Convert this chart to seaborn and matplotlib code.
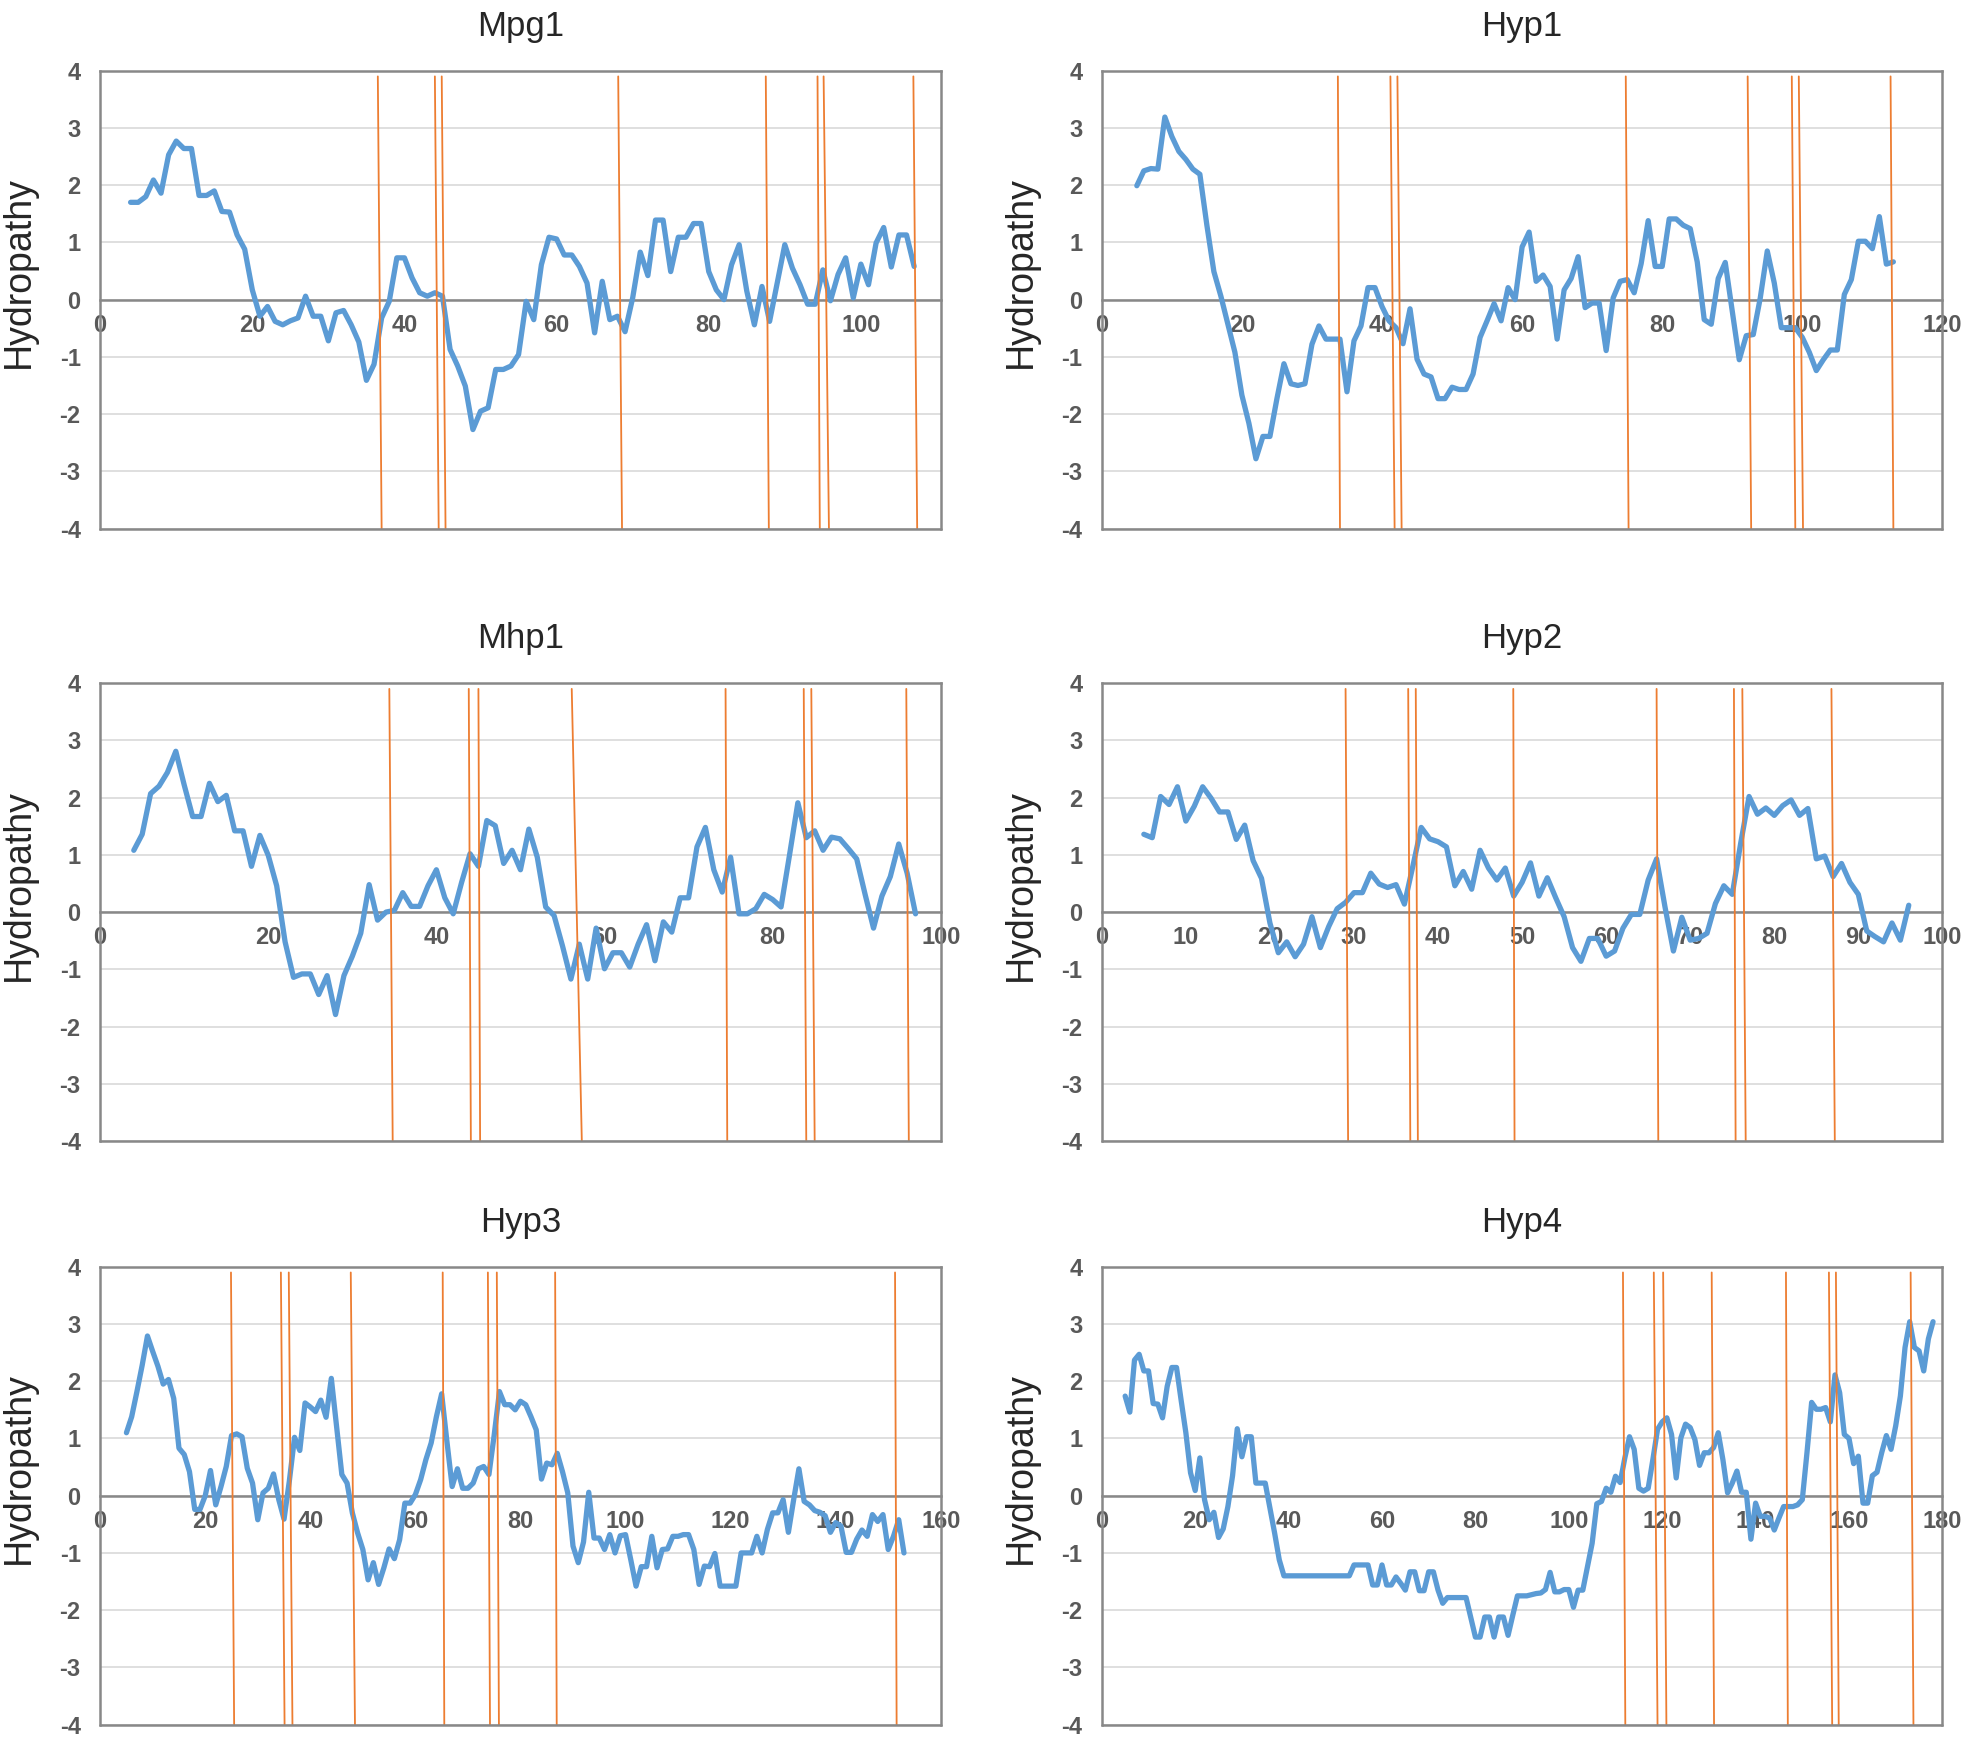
import numpy as np
import matplotlib
matplotlib.use("Agg")
import matplotlib.pyplot as plt
import seaborn as sns

# ---- hydropathy profiles ----
mpg1_start = 4
mpg1_y = [1.70, 1.70, 1.80, 2.09, 1.86, 2.53, 2.77, 2.64, 2.64, 1.82, 1.82, 1.90, 1.54, 1.53,
          1.13, 0.88, 0.17, -0.29, -0.12, -0.38, -0.44, -0.37, -0.32, 0.06, -0.29, -0.29,
          -0.72, -0.23, -0.19, -0.44, -0.74, -1.41, -1.13, -0.32, -0.03, 0.73, 0.73, 0.38,
          0.12, 0.06, 0.12, 0.06, -0.87, -1.16, -1.51, -2.27, -1.95, -1.89, -1.22, -1.22,
          -1.16, -0.96, -0.03, -0.35, 0.61, 1.09, 1.06, 0.78, 0.78, 0.58, 0.29, -0.58, 0.32,
          -0.35, -0.29, -0.56, 0.03, 0.83, 0.42, 1.39, 1.39, 0.49, 1.09, 1.09, 1.33, 1.33,
          0.49, 0.17, 0.00, 0.61, 0.96, 0.15, -0.44, 0.23, -0.38, 0.29, 0.96, 0.55, 0.26,
          -0.08, -0.08, 0.52, -0.02, 0.44, 0.73, 0.03, 0.62, 0.26, 0.99, 1.26, 0.57, 1.13,
          1.13, 0.58]
mpg1_cut_top = [36.5, 44.0, 44.9, 68.1, 87.5, 94.3, 95.1, 106.9]
mpg1_cut_bottom = [37.0, 44.5, 45.4, 68.6, 87.9, 94.6, 95.8, 107.4]

hyp1_start = 5
hyp1_y = [1.99, 2.25, 2.29, 2.28, 3.19, 2.85, 2.59, 2.45, 2.28, 2.19, 1.30, 0.49, 0.06, -0.43,
          -0.92, -1.67, -2.16, -2.78, -2.39, -2.39, -1.73, -1.12, -1.47, -1.50, -1.47, -0.78,
          -0.46, -0.69, -0.69, -0.69, -1.61, -0.72, -0.46, 0.21, 0.21, -0.12, -0.37, -0.49,
          -0.77, -0.16, -1.04, -1.30, -1.35, -1.73, -1.73, -1.53, -1.57, -1.57, -1.30, -0.66,
          -0.37, -0.07, -0.37, 0.21, 0.00, 0.92, 1.18, 0.32, 0.43, 0.23, -0.69, 0.17, 0.37,
          0.75, -0.14, -0.06, -0.06, -0.89, 0.03, 0.32, 0.35, 0.12, 0.63, 1.38, 0.58, 0.58,
          1.41, 1.41, 1.30, 1.24, 0.66, -0.35, -0.43, 0.37, 0.65, -0.20, -1.05, -0.63, -0.61,
          0.03, 0.85, 0.29, -0.49, -0.49, -0.49, -0.66, -0.92, -1.24, -1.05, -0.88, -0.88,
          0.09, 0.35, 1.02, 1.02, 0.89, 1.45, 0.62, 0.66]
hyp1_cut_top = [33.7, 41.2, 42.2, 74.8, 92.2, 98.5, 99.5, 112.6]
hyp1_cut_bottom = [34.0, 41.8, 42.8, 75.2, 92.7, 99.0, 100.1, 113.0]

mhp1_start = 4
mhp1_y = [1.08, 1.36, 2.07, 2.20, 2.44, 2.81, 2.22, 1.67, 1.67, 2.25, 1.93, 2.04, 1.42, 1.42,
          0.80, 1.34, 0.99, 0.46, -0.52, -1.14, -1.08, -1.08, -1.44, -1.11, -1.79, -1.11,
          -0.77, -0.37, 0.48, -0.14, 0.00, 0.03, 0.34, 0.10, 0.10, 0.46, 0.74, 0.25, -0.03,
          0.52, 1.02, 0.80, 1.60, 1.51, 0.85, 1.08, 0.74, 1.45, 0.96, 0.09, -0.06, -0.59,
          -1.17, -0.56, -1.17, -0.28, -0.99, -0.71, -0.71, -0.96, -0.56, -0.22, -0.85, -0.17,
          -0.35, 0.25, 0.25, 1.14, 1.48, 0.74, 0.35, 0.96, -0.03, -0.03, 0.06, 0.31, 0.22,
          0.09, 0.99, 1.91, 1.30, 1.42, 1.08, 1.31, 1.28, 1.11, 0.93, 0.31, -0.28, 0.28, 0.62,
          1.19, 0.68, -0.03]
mhp1_cut_top = [34.4, 43.85, 45.0, 56.1, 74.4, 83.7, 84.6, 95.9]
mhp1_cut_bottom = [34.8, 44.1, 45.2, 57.3, 74.6, 84.0, 85.0, 96.2]

hyp2_start = 5
hyp2_y = [1.36, 1.30, 2.02, 1.88, 2.19, 1.59, 1.85, 2.19, 1.99, 1.75, 1.75, 1.27, 1.52, 0.90,
          0.59, -0.19, -0.71, -0.52, -0.78, -0.56, -0.08, -0.62, -0.25, 0.06, 0.17, 0.34,
          0.34, 0.68, 0.49, 0.43, 0.48, 0.14, 0.80, 1.48, 1.28, 1.23, 1.14, 0.46, 0.71, 0.40,
          1.08, 0.77, 0.56, 0.77, 0.28, 0.52, 0.86, 0.28, 0.60, 0.25, -0.08, -0.62, -0.86,
          -0.46, -0.46, -0.77, -0.68, -0.28, -0.04, -0.04, 0.56, 0.93, 0.09, -0.68, -0.09,
          -0.49, -0.46, -0.37, 0.15, 0.46, 0.31, 1.20, 2.02, 1.71, 1.82, 1.69, 1.86, 1.96,
          1.69, 1.81, 0.93, 0.98, 0.62, 0.85, 0.52, 0.31, -0.33, -0.43, -0.52, -0.19, -0.49,
          0.12]
hyp2_cut_top = [29.0, 36.45, 37.35, 48.95, 66.0, 75.2, 76.2, 86.8]
hyp2_cut_bottom = [29.3, 36.7, 37.6, 49.1, 66.2, 75.4, 76.6, 87.2]

hyp3_start = 5
hyp3_y = [1.10, 1.38, 1.82, 2.28, 2.79, 2.52, 2.26, 1.95, 2.03, 1.70, 0.83, 0.72, 0.42, -0.24,
          -0.24, 0.00, 0.44, -0.16, 0.16, 0.51, 1.05, 1.08, 1.03, 0.48, 0.22, -0.42, 0.05,
          0.13, 0.38, -0.07, -0.41, 0.25, 1.02, 0.79, 1.62, 1.55, 1.47, 1.67, 1.37, 2.05, 1.21,
          0.37, 0.22, -0.30, -0.65, -0.94, -1.47, -1.17, -1.55, -1.26, -0.93, -1.10, -0.77,
          -0.13, -0.13, 0.02, 0.28, 0.63, 0.92, 1.38, 1.78, 0.95, 0.16, 0.47, 0.13, 0.13, 0.22,
          0.47, 0.51, 0.37, 1.06, 1.82, 1.59, 1.59, 1.50, 1.65, 1.59, 1.38, 1.15, 0.29, 0.57,
          0.54, 0.74, 0.42, 0.05, -0.88, -1.17, -0.81, 0.06, -0.74, -0.74, -0.94, -0.68, -1.00,
          -0.70, -0.68, -1.12, -1.58, -1.24, -1.24, -0.71, -1.26, -0.94, -0.93, -0.71, -0.71,
          -0.68, -0.68, -0.94, -1.55, -1.23, -1.24, -1.01, -1.58, -1.58, -1.58, -1.58, -1.00,
          -1.00, -1.00, -0.71, -1.00, -0.59, -0.30, -0.30, -0.07, -0.64, -0.07, 0.47, -0.10,
          -0.16, -0.26, -0.29, -0.35, -0.64, -0.47, -0.53, -0.99, -0.99, -0.76, -0.60, -0.71,
          -0.33, -0.45, -0.33, -0.94, -0.71, -0.42, -1.00]
hyp3_cut_top = [24.9, 34.4, 35.9, 47.7, 65.2, 73.8, 75.5, 86.6, 151.3]
hyp3_cut_bottom = [25.5, 35.1, 36.6, 48.5, 65.5, 74.2, 75.9, 86.9, 151.6]

hyp4_x = [5, 6, 7, 8, 9, 10, 11, 12, 13, 14, 15, 16, 17, 18, 19, 20, 21, 22, 23, 24, 25, 26,
          27, 28, 29, 30, 31, 32, 33, 34, 35, 36, 37, 38, 39, 53, 54, 55, 56, 57, 58, 59, 60,
          61, 62, 63, 64, 65, 66, 67, 68, 69, 70, 71, 72, 73, 74, 78, 80, 81, 82, 83, 84, 85,
          86, 87, 88, 89, 91, 93, 94, 95, 96, 97, 98, 99, 100, 101, 102, 103, 104, 105, 106,
          107, 108, 109, 110, 111, 112, 113, 114, 115, 116, 117, 118, 119, 120, 121, 122, 123,
          124, 125, 126, 127, 128, 129, 130, 131, 132, 133, 134, 135, 136, 137, 138, 139, 140,
          141, 142, 143, 144, 145, 146, 148, 149, 150, 151, 152, 153, 154, 155, 156, 157, 158,
          159, 160, 161, 162, 163, 164, 165, 166, 167, 168, 169, 170, 171, 172, 173, 174, 175,
          176, 177, 178]
hyp4_y = [1.74, 1.46, 2.37, 2.47, 2.18, 2.18, 1.61, 1.60, 1.36, 1.91, 2.24, 2.24, 1.66, 1.10,
          0.40, 0.09, 0.66, -0.07, -0.42, -0.29, -0.73, -0.58, -0.19, 0.35, 1.17, 0.68, 1.03,
          1.03, 0.22, 0.22, 0.22, -0.22, -0.65, -1.12, -1.40, -1.40, -1.21, -1.21, -1.21,
          -1.21, -1.56, -1.56, -1.21, -1.56, -1.56, -1.42, -1.53, -1.65, -1.33, -1.33, -1.66,
          -1.66, -1.33, -1.33, -1.65, -1.88, -1.78, -1.78, -2.47, -2.47, -2.12, -2.12, -2.47,
          -2.12, -2.12, -2.44, -2.09, -1.75, -1.75, -1.71, -1.70, -1.64, -1.34, -1.68, -1.68,
          -1.64, -1.64, -1.95, -1.65, -1.65, -1.24, -0.83, -0.14, -0.10, 0.13, 0.06, 0.34,
          0.23, 0.66, 1.03, 0.81, 0.13, 0.08, 0.13, 0.63, 1.16, 1.29, 1.36, 1.07, 0.31, 1.01,
          1.25, 1.19, 0.98, 0.53, 0.75, 0.75, 0.84, 1.10, 0.63, 0.05, 0.22, 0.43, 0.06, 0.06,
          -0.76, -0.13, -0.36, -0.36, -0.39, -0.60, -0.39, -0.19, -0.19, -0.16, -0.07, 0.75,
          1.63, 1.51, 1.51, 1.54, 1.29, 2.11, 1.80, 1.07, 1.00, 0.56, 0.69, -0.13, -0.13, 0.35,
          0.41, 0.75, 1.05, 0.81, 1.22, 1.74, 2.59, 3.04, 2.59, 2.53, 2.18, 2.74, 3.04]
hyp4_cut_top = [111.6, 118.2, 120.2, 130.6, 146.5, 155.7, 157.2, 173.2]
hyp4_cut_bottom = [112.1, 119.0, 120.9, 131.1, 146.9, 156.4, 157.8, 173.8]

names = ["Mpg1", "Hyp1", "Mhp1", "Hyp2", "Hyp3", "Hyp4"]
x_limits = [110.5, 120, 100, 100, 160, 180]
x_steps = [20, 20, 20, 10, 20, 20]

BLUE = "#5B9BD5"
ORANGE = "#ED7D31"
FRAME = "#888888"
GRID = "#D9D9D9"
TICK = "#595959"

series = [
    (np.arange(mpg1_start, mpg1_start + len(mpg1_y)), mpg1_y, mpg1_cut_top, mpg1_cut_bottom),
    (np.arange(hyp1_start, hyp1_start + len(hyp1_y)), hyp1_y, hyp1_cut_top, hyp1_cut_bottom),
    (np.arange(mhp1_start, mhp1_start + len(mhp1_y)), mhp1_y, mhp1_cut_top, mhp1_cut_bottom),
    (np.arange(hyp2_start, hyp2_start + len(hyp2_y)), hyp2_y, hyp2_cut_top, hyp2_cut_bottom),
    (np.arange(hyp3_start, hyp3_start + len(hyp3_y)), hyp3_y, hyp3_cut_top, hyp3_cut_bottom),
    (np.array(hyp4_x), hyp4_y, hyp4_cut_top, hyp4_cut_bottom),
]

sns.set_style("white")
plt.rcParams["font.family"] = ["Liberation Sans", "DejaVu Sans"]

fig = plt.figure(figsize=(19.64, 17.41), dpi=100)

lefts = [0.051, 0.561]
bottoms = [0.6964, 0.3446, 0.0094]
width = 0.428
height = 0.263

for i, (name, (xs, ys, ctop, cbot)) in enumerate(zip(names, series)):
    ax = fig.add_axes([lefts[i % 2], bottoms[i // 2], width, height])
    sns.lineplot(x=xs, y=ys, ax=ax, color=BLUE, linewidth=3.8, zorder=3)
    for t, b in zip(ctop, cbot):
        ax.plot([t, b], [3.9, -4], color=ORANGE, linewidth=1.3, zorder=4)

    # frame first: moving the spine resets the tick objects
    for side in ["left", "right", "top", "bottom"]:
        ax.spines[side].set_visible(True)
        ax.spines[side].set_color(FRAME)
        ax.spines[side].set_linewidth(1.8)
    ax.spines["bottom"].set_position(("data", 0))
    ax.axhline(-4, color=FRAME, linewidth=1.8, clip_on=False, zorder=5)

    ax.set_xlim(0, x_limits[i])
    ax.set_ylim(-4, 4)
    yt = list(range(-4, 5))
    ax.set_yticks(yt, labels=[str(v) for v in yt])
    xt = list(range(0, int(x_limits[i]) + 1, x_steps[i]))
    ax.set_xticks(xt, labels=[str(v) for v in xt])
    ax.tick_params(axis="y", length=0, pad=14, labelsize=17, labelcolor=TICK)
    ax.tick_params(axis="x", length=0, pad=10, labelsize=17, labelcolor=TICK)
    for lbl in ax.get_xticklabels() + ax.get_yticklabels():
        lbl.set_fontweight("bold")

    ax.grid(axis="y", color=GRID, linewidth=1.2)
    ax.grid(axis="x", visible=False)
    ax.set_axisbelow(True)

    ax.set_title(name, fontsize=25, pad=25)
    ax.set_xlabel("")
    ax.set_ylabel("Hydropathy", fontsize=27)
    ax.yaxis.set_label_coords(-0.075, 0.56)

fig.savefig("out.png", dpi=100)
